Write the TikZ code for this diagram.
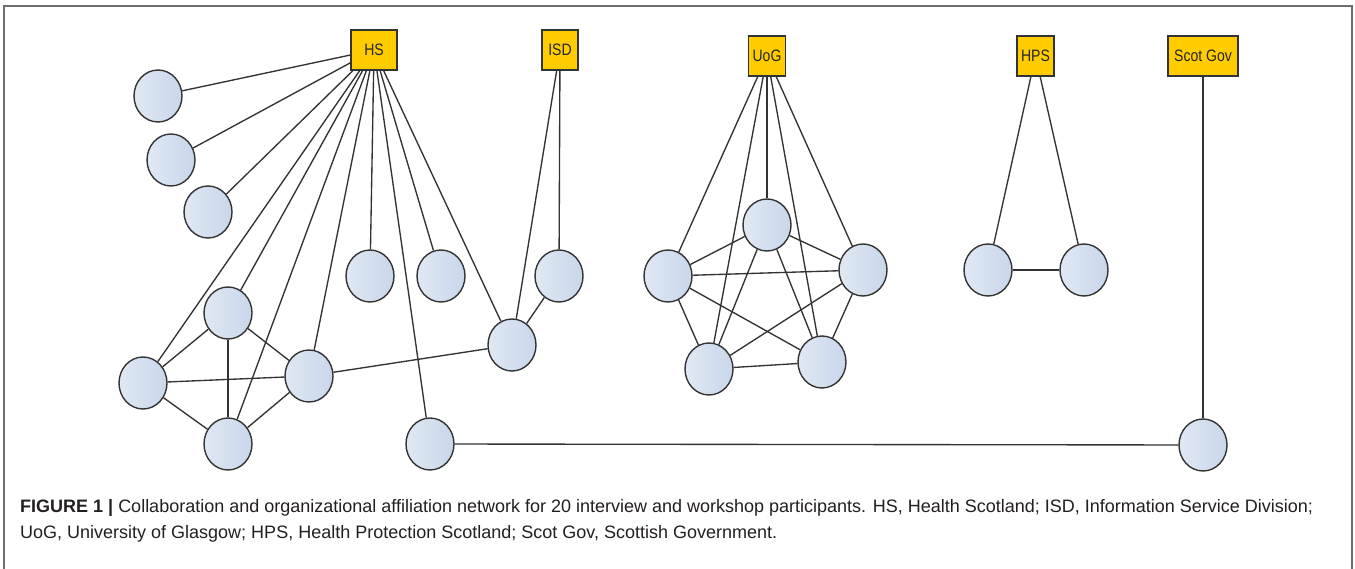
\documentclass[tikz,border=0pt]{standalone}
\usepackage{fontspec}
\setmainfont{Liberation Sans}
\newfontfamily\boxfont[FakeStretch=0.85]{Liberation Sans}
\usetikzlibrary{shapes.geometric}
\definecolor{boxfill}{HTML}{FFCC00}
\definecolor{edgecol}{HTML}{333333}
\definecolor{clight}{HTML}{E0E8F3}
\definecolor{cdark}{HTML}{C8D7EB}
\definecolor{framecol}{HTML}{6E6E6E}
\definecolor{captext}{HTML}{231F20}
\pgfdeclarelayer{bg}
\pgfsetlayers{bg,main}
\tikzset{
  org/.style={draw=edgecol, line width=1.3pt, fill=boxfill, inner sep=0pt,
    minimum height=40pt, font=\boxfont\fontsize{16.5}{18}\selectfont, text=black!85},
  person/.style={ellipse, draw=edgecol, line width=1.4pt, inner sep=0pt,
    minimum width=48pt, minimum height=52pt, left color=clight, right color=cdark},
  link/.style={draw=edgecol, line width=1.35pt},
  captionline/.style={anchor=base west, inner sep=0pt, text=captext, font=\fontsize{18}{21}\selectfont}
}
\begin{document}
\begin{tikzpicture}[x=1pt,y=-1pt]
\useasboundingbox (0,0) rectangle (1355,569);
\begin{pgfonlayer}{bg}
\fill[white] (0,0) rectangle (1355,569);
\end{pgfonlayer}
\draw[framecol, line width=1.4pt] (4,575) -- (4,6) -- (1352,6) -- (1352,575);

% organisations
\node[org, minimum width=46pt] (HS) at (374,50) {HS};
\node[org, minimum width=36pt] (ISD) at (560,50) {ISD};
\node[org, minimum width=37pt] (UoG) at (767,56) {UoG};
\node[org, minimum width=37pt] (HPS) at (1035.5,56) {HPS};
\node[org, minimum width=70pt] (SG) at (1203,56) {Scot Gov};

% participants
\node[person] (c1) at (158,96) {};
\node[person] (c2) at (171,160) {};
\node[person] (c3) at (208,212) {};
\node[person] (h1) at (370,276) {};
\node[person] (h2) at (441,276) {};
\node[person] (i1) at (559,276) {};
\node[person] (qa) at (228,313) {};
\node[person] (qb) at (143,383) {};
\node[person] (qc) at (309,376) {};
\node[person] (qd) at (228,444) {};
\node[person] (e) at (512,345) {};
\node[person] (f) at (430,444) {};
\node[person] (u1) at (767,225) {};
\node[person] (u2) at (668,276) {};
\node[person] (u3) at (863,270) {};
\node[person] (u4) at (709,369) {};
\node[person] (u5) at (822,362) {};
\node[person] (p1) at (988,270) {};
\node[person] (p2) at (1084,270) {};
\node[person] (s1) at (1203,445) {};

\begin{pgfonlayer}{bg}
\foreach \t in {c1,c2,c3,qb,qa,qd,qc,h1,f,h2,e} \draw[link] (HS) -- (\t);
\draw[link] (ISD) -- (e);
\draw[link] (ISD) -- (i1);
\draw[link] (i1) -- (e);
\draw[link] (qc) -- (e);
\draw[link] (qa) -- (qb);
\draw[link] (qa) -- (qc);
\draw[link] (qa) -- (qd);
\draw[link] (qb) -- (qc);
\draw[link] (qb) -- (qd);
\draw[link] (qc) -- (qd);
\draw[link] (f) -- (s1);
\draw[link] (SG) -- (s1);
\foreach \t in {u1,u2,u3,u4,u5} \draw[link] (UoG) -- (\t);
\draw[link] (u1) -- (u2);
\draw[link] (u1) -- (u3);
\draw[link] (u1) -- (u4);
\draw[link] (u1) -- (u5);
\draw[link] (u2) -- (u3);
\draw[link] (u2) -- (u4);
\draw[link] (u2) -- (u5);
\draw[link] (u3) -- (u4);
\draw[link] (u3) -- (u5);
\draw[link] (u4) -- (u5);
\draw[link] (HPS) -- (p1);
\draw[link] (HPS) -- (p2);
\draw[link] (p1) -- (p2);
\end{pgfonlayer}

% caption
\node[captionline] (cap1) at (20,512) {\textbf{FIGURE 1 |} Collaboration and organizational affiliation network for 20 interview and workshop participants. HS, Health Scotland; ISD, Information Service Division;};
\node[captionline] (cap2) at (20,538) {UoG, University of Glasgow; HPS, Health Protection Scotland; Scot Gov, Scottish Government.};
\end{tikzpicture}
\end{document}
